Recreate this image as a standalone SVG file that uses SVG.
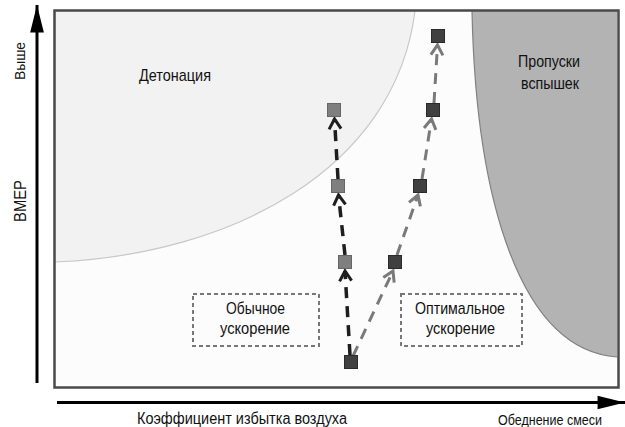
<svg xmlns="http://www.w3.org/2000/svg" width="625" height="427" viewBox="0 0 625 427">
<style>
.t{font-family:"Liberation Sans Narrow","Liberation Sans",Arial,sans-serif;fill:#111;}
.box{fill:none;stroke:#777;stroke-width:2;stroke-dasharray:4,3;}
.dk{fill:#404040;stroke:#2a2a2a;stroke-width:1;}
.md{fill:#7f7f7f;stroke:#666;stroke-width:1;}
.c1{stroke:#1e1e1e;stroke-width:3.5;fill:none;stroke-dasharray:11,8;}
.c2{stroke:#7a7a7a;stroke-width:3;fill:none;stroke-dasharray:11,8;}
</style>
<defs>
<marker id="a1" markerUnits="userSpaceOnUse" markerWidth="20" markerHeight="20" refX="0" refY="0" viewBox="-12 -10 14 20" orient="auto"><path d="M-10,-6 L0,0 L-10,6" fill="none" stroke="#1e1e1e" stroke-width="3"/></marker>
<marker id="a2" markerUnits="userSpaceOnUse" markerWidth="20" markerHeight="20" refX="0" refY="0" viewBox="-12 -10 14 20" orient="auto"><path d="M-10,-6 L0,0 L-10,6" fill="none" stroke="#7a7a7a" stroke-width="3"/></marker>
<marker id="ax" markerUnits="userSpaceOnUse" markerWidth="30" markerHeight="16" refX="0" refY="0" viewBox="-24 -7 25 14" orient="auto"><path d="M-24,-6 L0,0 L-24,6 Z" fill="#000"/></marker>
</defs>
<g id="frame">
<rect x="54.5" y="10.5" width="564" height="377" fill="#fcfcfc" stroke="none"/>
</g>
<g id="detonation">
<path d="M55,262 C 230,255 395,170 415,11 L55,11 Z" fill="#f2f2f2" stroke="none"/>
<path d="M55,262 C 230,255 395,170 415,11" fill="none" stroke="#c8c8c8" stroke-width="1.2"/>
<text class="t" x="175" y="81" font-size="17" text-anchor="middle" textLength="72" lengthAdjust="spacingAndGlyphs">Детонация</text>
</g>
<g id="misfire">
<path d="M472,11 C 476,200 520,350 617,357 L617,11 Z" fill="#b3b3b3" stroke="none"/>
<path d="M472,11 C 476,200 520,350 617,357" fill="none" stroke="#808080" stroke-width="1.2"/>
<text class="t" x="549" y="67" font-size="17" text-anchor="middle" textLength="62" lengthAdjust="spacingAndGlyphs">Пропуски</text>
<text class="t" x="550" y="89" font-size="17" text-anchor="middle" textLength="58" lengthAdjust="spacingAndGlyphs">вспышек</text>
</g>
<g id="border">
<rect x="54.5" y="10.5" width="564" height="377" fill="none" stroke="#4a4a4a" stroke-width="2.5"/>
</g>
<g id="normal">
<rect class="box" x="193" y="294" width="126" height="52"/>
<text class="t" x="255.5" y="314" font-size="17" text-anchor="middle" textLength="59" lengthAdjust="spacingAndGlyphs">Обычное</text>
<text class="t" x="255" y="334" font-size="17" text-anchor="middle" textLength="70" lengthAdjust="spacingAndGlyphs">ускорение</text>
</g>
<g id="optimal">
<rect class="box" x="401" y="294" width="121" height="52"/>
<text class="t" x="460" y="314" font-size="17" text-anchor="middle" textLength="90" lengthAdjust="spacingAndGlyphs">Оптимальное</text>
<text class="t" x="460.5" y="334" font-size="17" text-anchor="middle" textLength="69" lengthAdjust="spacingAndGlyphs">ускорение</text>
</g>
<g id="connectors">
<line class="c1" x1="350" y1="355" x2="345" y2="271" marker-end="url(#a1)"/>
<line class="c1" x1="345" y1="255" x2="338.5" y2="195" marker-end="url(#a1)"/>
<line class="c1" x1="338" y1="179" x2="334.5" y2="119" marker-end="url(#a1)"/>
<line class="c2" x1="353" y1="356" x2="393" y2="271" marker-end="url(#a2)"/>
<line class="c2" x1="397" y1="255" x2="418" y2="195" marker-end="url(#a2)"/>
<line class="c2" x1="422" y1="179" x2="431.5" y2="119" marker-end="url(#a2)"/>
<line class="c2" x1="434" y1="103" x2="437.5" y2="45" marker-end="url(#a2)"/>
</g>
<g id="p0"><rect class="dk" x="344.5" y="355.5" width="13" height="13"/></g>
<g id="l1"><rect class="md" x="338.5" y="255.5" width="13" height="13"/></g>
<g id="l2"><rect class="md" x="331.5" y="179.5" width="13" height="13"/></g>
<g id="l3"><rect class="md" x="327.5" y="103.5" width="13" height="13"/></g>
<g id="r1"><rect class="dk" x="388.5" y="255.5" width="13" height="13"/></g>
<g id="r2"><rect class="dk" x="413.5" y="179.5" width="13" height="13"/></g>
<g id="r3"><rect class="dk" x="426.5" y="103.5" width="13" height="13"/></g>
<g id="r4"><rect class="dk" x="431.5" y="29.5" width="13" height="13"/></g>
<g id="axes">
<line x1="37" y1="383" x2="37" y2="5" stroke="#000" stroke-width="3" marker-end="url(#ax)"/>
<line x1="57" y1="402.5" x2="625" y2="402.5" stroke="#000" stroke-width="3" marker-end="url(#ax)"/>
<text class="t" transform="translate(25,61) rotate(-90)" font-size="15" text-anchor="middle" textLength="38" lengthAdjust="spacingAndGlyphs">Выше</text>
<text class="t" transform="translate(26,201) rotate(-90)" font-size="16" text-anchor="middle" textLength="42" lengthAdjust="spacingAndGlyphs">ВМЕР</text>
<text class="t" x="137" y="424" font-size="16" textLength="210" lengthAdjust="spacingAndGlyphs">Коэффициент избытка воздуха</text>
<text class="t" x="498" y="425" font-size="15" textLength="104" lengthAdjust="spacingAndGlyphs">Обеднение смеси</text>
</g>
</svg>
